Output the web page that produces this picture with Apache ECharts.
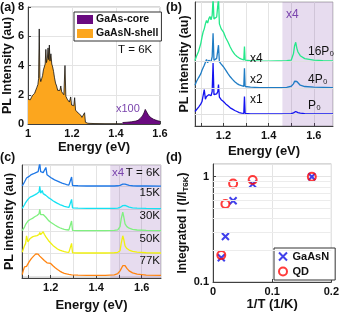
<!DOCTYPE html>
<html><head><meta charset="utf-8">
<script src="https://cdn.jsdelivr.net/npm/echarts@6/dist/echarts.min.js"></script>
<style>html,body{margin:0;padding:0;background:#fff}#c{width:342px;height:316px}</style>
</head><body><div id="c"></div>
<script>
// ---------- Panel (a) ----------
const energyShellA = [1.0,1.005,1.01,1.015,1.02,1.025,1.03,1.035,1.04,1.045,
  1.048,1.051,1.054,1.058,1.062,1.066,1.07,1.074,1.078,1.081,
  1.084,1.088,1.091,1.094,1.097,1.10,1.104,1.108,1.112,1.116,
  1.12,1.125,1.13,1.135,1.14,1.145,1.149,1.153,1.158,1.163,
  1.168,1.172,1.178,1.183,1.188,1.194,1.198,1.203,1.208,1.212,
  1.216,1.222,1.228,1.234,1.24,1.245,1.25,1.257,1.261,1.266,
  1.272,1.28,1.30,1.35,1.40,1.43];
const shellA = [1.7,1.75,1.65,1.8,1.95,1.85,2.1,2.2,2.5,2.7,
  3.1,6.5,3.2,2.9,3.1,3.3,3.7,3.6,4.1,5.1,
  4.2,4.5,5.2,4.4,5.4,4.3,4.8,4.1,3.9,3.6,
  3.2,2.8,2.6,2.3,2.2,2.3,2.6,2.2,2.1,2.0,
  4.0,1.9,1.7,1.6,1.5,1.85,1.3,1.2,1.25,1.8,
  0.95,0.85,0.75,0.68,0.6,0.45,0.35,0.77,0.12,0.08,
  0.05,0.04,0.03,0.02,0.02,0.02];
const energyCoreA = [1.43,1.45,1.47,1.49,1.50,1.51,1.52,1.527,1.533,1.537,1.542,1.55,1.56,1.57,1.58,1.59,1.60];
const coreA = [0.1,0.12,0.15,0.2,0.25,0.38,0.55,0.75,1.0,0.95,0.75,0.55,0.42,0.33,0.27,0.22,0.18];

// ---------- Panel (b) ----------
const energyB = [1.074,1.08,1.09,1.10,1.105,1.11,1.115,1.12,1.125,1.13,
  1.135,1.14,1.145,1.15,1.154,1.158,1.165,1.17,1.175,1.178,
  1.182,1.19,1.20,1.21,1.22,1.23,1.24,1.25,1.26,1.27,
  1.28,1.29,1.293,1.296,1.32,1.36,1.40,1.44,1.48,1.50,
  1.51,1.515,1.52,1.525,1.53,1.54,1.56,1.60,1.64,1.685];
const p0B = [0.1,0.16,0.27,0.39,0.48,0.55,0.93,0.57,0.67,0.61,
  0.74,0.8,0.7,0.86,1.94,0.74,0.67,0.77,0.86,1.12,
  0.65,0.55,0.48,0.39,0.32,0.24,0.19,0.14,0.1,0.06,
  0.04,0.03,0.67,0.03,0.01,0.01,0.01,0.01,0.01,0.02,
  0.05,0.08,0.1,0.09,0.06,0.04,0.02,0.01,0.01,0.01];
const p4B = [0.1,0.23,0.39,0.54,0.67,0.74,0.86,0.93,1.08,0.95,
  1.05,1.12,0.99,1.18,2.07,1.05,0.99,1.12,1.18,1.62,
  0.99,0.9,0.8,0.67,0.54,0.42,0.32,0.23,0.16,0.11,
  0.08,0.06,0.74,0.05,0.03,0.01,0.01,0.01,0.02,0.06,
  0.15,0.25,0.28,0.24,0.17,0.1,0.05,0.03,0.02,0.01];
const p16B = [0.04,0.19,0.39,0.7,0.93,1.12,1.24,1.43,1.56,1.46,
  1.62,1.71,1.58,1.75,2.4,1.62,1.56,1.69,1.75,2.4,
  1.43,1.24,1.12,0.9,0.74,0.55,0.39,0.27,0.19,0.13,
  0.09,0.06,0.57,0.05,0.03,0.01,0.01,0.02,0.03,0.05,
  0.3,0.6,0.73,0.5,0.36,0.22,0.11,0.05,0.03,0.02];
const offsetsB = [0,1,2];
const namesB = ['P₀','4P₀','16P₀'];
const factorsB = ['x1','x2','x4'];

// ---------- Panel (c) ----------
const energyC = [1.075,1.08,1.085,1.09,1.094,1.10,1.105,1.11,1.115,1.12,
  1.125,1.13,1.135,1.14,1.145,1.149,1.152,1.156,1.16,1.163,
  1.167,1.172,1.179,1.184,1.19,1.20,1.21,1.22,1.23,1.24,
  1.25,1.26,1.27,1.28,1.288,1.292,1.296,1.32,1.36,1.40,
  1.44,1.48,1.495,1.505,1.51,1.517,1.522,1.527,1.535,1.545,
  1.56,1.58,1.62,1.685];
const t6C = [0.02,0.08,0.2,0.28,0.38,0.42,0.45,0.5,0.53,0.55,
  0.57,0.6,0.62,0.6,0.66,0.7,1.04,0.66,0.64,0.6,
  0.62,0.58,0.85,0.52,0.46,0.4,0.34,0.28,0.24,0.19,
  0.15,0.12,0.08,0.06,0.05,0.42,0.04,0.03,0.02,0.02,
  0.02,0.02,0.03,0.05,0.07,0.1,0.11,0.1,0.07,0.05,
  0.03,0.02,0.02,0.01];
const t15C = [0.02,0.08,0.18,0.28,0.34,0.42,0.47,0.52,0.55,0.57,
  0.6,0.62,0.64,0.68,0.72,0.75,1.01,0.7,0.72,0.82,
  0.68,0.64,0.6,0.55,0.5,0.44,0.36,0.3,0.24,0.19,
  0.15,0.11,0.08,0.06,0.05,0.42,0.04,0.03,0.02,0.02,
  0.02,0.02,0.03,0.06,0.09,0.14,0.16,0.15,0.1,0.07,
  0.04,0.03,0.02,0.01];
const t30C = [0.02,0.08,0.18,0.3,0.36,0.45,0.49,0.52,0.55,0.57,
  0.6,0.64,0.66,0.7,0.74,0.78,0.97,0.74,0.76,0.82,
  0.74,0.7,0.62,0.56,0.48,0.4,0.33,0.26,0.2,0.15,
  0.11,0.08,0.06,0.05,0.04,0.45,0.03,0.02,0.02,0.02,
  0.02,0.03,0.06,0.2,0.55,0.85,0.6,0.32,0.2,0.13,
  0.08,0.05,0.03,0.02];
const t50C = [0.05,0.13,0.35,0.45,0.79,0.52,0.6,0.67,0.7,0.74,
  0.76,0.78,0.82,0.8,0.78,0.85,0.94,0.84,0.89,0.92,
  0.97,0.86,0.74,0.67,0.58,0.47,0.36,0.28,0.2,0.15,
  0.11,0.08,0.06,0.05,0.04,0.45,0.03,0.02,0.02,0.02,
  0.02,0.03,0.05,0.12,0.45,0.79,0.6,0.34,0.22,0.15,
  0.09,0.06,0.03,0.02];
const t77C = [0.05,0.25,0.4,0.48,0.42,0.5,0.62,0.7,0.77,0.82,
  0.88,0.95,0.98,1.0,0.97,0.92,0.88,0.85,0.8,0.77,
  0.72,0.68,0.62,0.58,0.6,0.55,0.45,0.36,0.28,0.21,
  0.15,0.11,0.08,0.06,0.05,0.04,0.04,0.03,0.02,0.02,
  0.02,0.04,0.1,0.22,0.3,0.45,0.5,0.45,0.33,0.22,
  0.13,0.07,0.03,0.02];
const offsetsC = [4,3,2,1,0];
const tempLabelsC = ['T = 6K','15K','30K','50K','77K'];

// ---------- Panel (d) ----------
const invTD = [0.014,0.021,0.034,0.067,0.167];
const gaasnD = [0.17,0.27,0.59,0.85,1.0];
const qdD = [0.18,0.55,0.86,0.93,1.0];
const minorGridD = [0.2,0.3,0.4,0.5,0.6,0.7,0.8,0.9];

// ---------- styling ----------
const FONT = '"Liberation Sans", Arial, Helvetica, sans-serif';
const AX = '#404040';
const colorsB = ['#1414f0','#1f7cc4','#24e88a'];
const colorsC = ['#1f78e6','#14e1f2','#80f080','#f0f010','#ff8410'];

function zip(xs, ys, off){ return xs.map((x,i)=>[x, ys[i] + (off||0)]); }

function baseAxis(extra){
  return Object.assign({
    type:'value',
    axisLine:{show:true,onZero:false,lineStyle:{color:AX,width:1}},
    axisTick:{show:true,inside:true,length:3,lineStyle:{color:AX}},
    axisLabel:{color:'#111',fontFamily:FONT,fontWeight:'bold',fontSize:11,margin:4},
    splitLine:{show:true,lineStyle:{color:'#e4e4e4',width:1}},
    nameLocation:'middle',
    nameTextStyle:{fontFamily:FONT,fontWeight:'bold',fontSize:13,color:'#111'}
  }, extra);
}
function energyLabel(v){
  const r = Math.round(v*10)/10;
  if (Math.abs(v-r) > 1e-6) return '';
  return (Math.abs(r-1.2)<1e-6||Math.abs(r-1.4)<1e-6||Math.abs(r-1.6)<1e-6) ? r.toFixed(1) : '';
}
const gridBox = {show:true,borderColor:'#b0b0b0',borderWidth:1,backgroundColor:'transparent'};

const series = [];
// (a)
series.push({name:'GaAsN-shell',type:'line',xAxisIndex:0,yAxisIndex:0,data:zip(energyShellA,shellA),
  showSymbol:false,symbol:'none',color:'#fca61e',lineStyle:{color:'#111',width:0.8},
  areaStyle:{color:'#fca61e',opacity:1},z:3});
series.push({name:'GaAs-core',type:'line',xAxisIndex:0,yAxisIndex:0,data:zip(energyCoreA,coreA),
  showSymbol:false,symbol:'none',color:'#6a0a80',lineStyle:{color:'#2a0030',width:0.8},
  areaStyle:{color:'#6a0a80',opacity:1},z:3});
// (b) background: shading + baseline grid lines
series.push({type:'line',xAxisIndex:1,yAxisIndex:1,data:[],z:1,silent:true,
  markArea:{silent:true,itemStyle:{color:'rgba(112,48,160,0.17)'},data:[[{xAxis:1.461},{xAxis:1.685}]]},
  markLine:{silent:true,symbol:['none','none'],label:{show:false},lineStyle:{color:'#e0e0e0',type:'solid',width:1},
    data:offsetsB.map(o=>({yAxis:o}))}});
[p0B,p4B,p16B].forEach((arr,i)=>{
  series.push({name:namesB[i],type:'line',xAxisIndex:1,yAxisIndex:1,data:zip(energyB,arr,offsetsB[i]),
    showSymbol:false,symbol:'none',lineStyle:{color:colorsB[i],width:1.3},color:colorsB[i],z:3,clip:true});
});
// (c)
series.push({type:'line',xAxisIndex:2,yAxisIndex:2,data:[],z:1,silent:true,
  markArea:{silent:true,itemStyle:{color:'rgba(112,48,160,0.17)'},data:[[{xAxis:1.462},{xAxis:1.685}]]}});
[t6C,t15C,t30C,t50C,t77C].forEach((arr,i)=>{
  series.push({name:'c'+tempLabelsC[i],type:'line',xAxisIndex:2,yAxisIndex:2,data:zip(energyC,arr,offsetsC[i]),
    showSymbol:false,symbol:'none',lineStyle:{color:colorsC[i],width:1.3},color:colorsC[i],z:3,clip:true});
});
// (d)
series.push({type:'line',xAxisIndex:3,yAxisIndex:3,data:[],z:1,silent:true,
  markLine:{silent:true,symbol:['none','none'],label:{show:false},lineStyle:{color:'#ececec',type:'solid',width:1},
    data:minorGridD.map(v=>({yAxis:v}))}});
series.push({name:'GaAsN',type:'scatter',xAxisIndex:3,yAxisIndex:3,data:zip(invTD,gaasnD),
  symbol:'path://M0,0L10,10M10,0L0,10',symbolSize:7,
  itemStyle:{color:'rgba(0,0,0,0)',borderColor:'#1010e6',borderWidth:2},z:3});
series.push({name:'QD',type:'scatter',xAxisIndex:3,yAxisIndex:3,data:zip(invTD,qdD),
  symbol:'circle',symbolSize:8,
  itemStyle:{color:'rgba(0,0,0,0)',borderColor:'#ff0a0a',borderWidth:2},z:4});

function txt(x,y,s,opt){
  opt = opt||{};
  return {type:'text',x:x,y:y,silent:true,z:10,style:{text:s,
    font:(opt.bold?'bold ':'')+(opt.size||12)+'px '+FONT,
    fill:opt.color||'#111',textAlign:opt.align||'left',textVerticalAlign:'middle',
    align:opt.align||'left',verticalAlign:'middle'}};
}
const PURPLE = '#7a44ad';
const graphics = [
  txt(0,8,'(a)',{bold:true,size:12.5}),
  txt(166,8,'(b)',{bold:true,size:12.5}),
  txt(0,158,'(c)',{bold:true,size:12.5}),
  txt(166,158,'(d)',{bold:true,size:12.5}),
  txt(118,50,'T = 6K',{size:11.5}),
  txt(116,109,'x100',{size:11,color:PURPLE}),
  txt(286,15,'x4',{size:12,color:PURPLE}),
  txt(112,173,'x4',{size:11.5,color:PURPLE})
];
const factorY = [100,80,59];
const nameYB = [106,80,52];
for (let i=0;i<3;i++){
  graphics.push(txt(250,factorY[i],factorsB[i],{size:12}));
  graphics.push(txt(308,nameYB[i],namesB[i],{size:12}));
}
const tempY = [173,193,215.5,238.5,261];
for (let i=0;i<5;i++){
  graphics.push(txt(160,tempY[i],tempLabelsC[i],{size:11.5,align:'right'}));
}

const option = {
  animation:false,
  backgroundColor:'#fff',
  grid:[
    Object.assign({left:27,top:7,width:133,height:117},gridBox),
    Object.assign({left:195,top:2,width:138,height:124},gridBox),
    Object.assign({left:22,top:165,width:139,height:113},gridBox),
    Object.assign({left:213,top:164,width:122,height:118},gridBox)
  ],
  xAxis:[
    baseAxis({gridIndex:0,min:1,max:1.6,interval:0.2,name:'Energy (eV)',nameGap:17}),
    baseAxis({gridIndex:1,min:1.074,max:1.685,minInterval:0.1,maxInterval:0.1,name:'Energy (eV)',nameGap:19,
      axisLabel:{color:'#111',fontFamily:FONT,fontWeight:'bold',fontSize:11,margin:4,formatter:energyLabel,showMinLabel:false,showMaxLabel:false}}),
    baseAxis({gridIndex:2,min:1.074,max:1.685,minInterval:0.1,maxInterval:0.1,name:'Energy (eV)',nameGap:21,
      axisLabel:{color:'#111',fontFamily:FONT,fontWeight:'bold',fontSize:11,margin:4,formatter:energyLabel,showMinLabel:false,showMaxLabel:false}}),
    baseAxis({gridIndex:3,min:0,max:0.2,interval:0.1,name:'1/T (1/K)',nameGap:16})
  ],
  yAxis:[
    baseAxis({gridIndex:0,min:0,max:8,interval:2,name:'PL Intensity (au)',nameGap:13,
      nameTextStyle:{fontFamily:FONT,fontWeight:'bold',fontSize:12.5,color:'#111'}}),
    baseAxis({gridIndex:1,min:-0.45,max:4.26,axisLabel:{show:false},axisTick:{show:false},splitLine:{show:false},
      name:'PL intensity (au)',nameGap:4,nameTextStyle:{fontFamily:FONT,fontWeight:'bold',fontSize:12.5,color:'#111'}}),
    baseAxis({gridIndex:2,min:-0.1,max:4.96,minInterval:1,maxInterval:1,axisLabel:{show:false},axisTick:{show:false},
      name:'PL intensity (au)',nameGap:6,nameTextStyle:{fontFamily:FONT,fontWeight:'bold',fontSize:12.5,color:'#111'}}),
    baseAxis({gridIndex:3,type:'log',logBase:10,min:0.1,max:1.32,
      axisLabel:{color:'#111',fontFamily:FONT,fontWeight:'bold',fontSize:11,margin:4,showMaxLabel:false,
        formatter:v=>(Math.abs(v-0.1)<1e-9?'0.1':(Math.abs(v-1)<1e-9?'1':''))},
      name:'{m|Integrated I (I/I}{s|T6K}{m|)}',nameGap:19,
      nameTextStyle:{rich:{m:{fontFamily:FONT,fontWeight:'bold',fontSize:12,color:'#111',lineHeight:14},
        s:{fontFamily:FONT,fontWeight:'bold',fontSize:8,color:'#111',lineHeight:14,verticalAlign:'bottom'}}}})
  ],
  legend:[
    {data:[{name:'GaAs-core',itemStyle:{color:'#6a0a80'}},{name:'GaAsN-shell',itemStyle:{color:'#fca61e'}}],
      orient:'vertical',left:74,top:12,icon:'rect',itemWidth:16,itemHeight:9,itemGap:3,padding:[2,3,2,3],
      borderColor:'#333',borderWidth:1,backgroundColor:'#fff',selectedMode:false,
      textStyle:{fontFamily:FONT,fontWeight:'bold',fontSize:10.5,color:'#111',padding:[0,0,0,-2]}},
    {data:['GaAsN','QD'],orient:'vertical',left:274,top:248,itemWidth:9,itemHeight:8,itemGap:4,padding:[3,6,3,4],
      borderColor:'#333',borderWidth:1,backgroundColor:'#fff',selectedMode:false,
      textStyle:{fontFamily:FONT,fontWeight:'bold',fontSize:11,color:'#111'}}
  ],
  graphic:graphics,
  series:series
};
const chart = echarts.init(document.getElementById('c'),null,{renderer:'canvas',width:342,height:316});
chart.setOption(option);
</script>
</body></html>
